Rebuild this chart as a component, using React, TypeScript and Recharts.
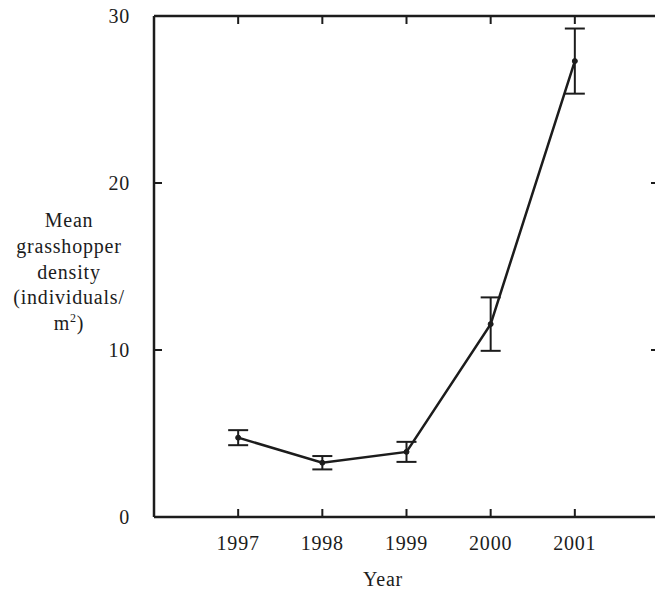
import React from 'react';
import { LineChart, Line, XAxis, YAxis, ErrorBar, Label } from 'recharts';

const years = [1997, 1998, 1999, 2000, 2001];
const density = [4.75, 3.25, 3.9, 11.55, 27.3];
const stdErr = [0.45, 0.4, 0.6, 1.6, 1.95];
const yTicks = [0, 10, 20, 30];
const yLabelLines = ['Mean', 'grasshopper', 'density', '(individuals/', 'm²)'];
const xLabel = 'Year';

const data = years.map((y, i) => ({ year: y, density: density[i], err: stdErr[i] }));

const FONT = '"Liberation Serif", "Times New Roman", serif';
const INK = '#1c1c1c';
const TICK_LEN = 8;

const BottomTick = (p: any) => (
  <g>
    <line x1={p.x} x2={p.x} y1={p.y} y2={p.y - TICK_LEN} stroke={INK} strokeWidth={2} />
    <text x={p.x} y={p.y + 33} textAnchor="middle" fontFamily={FONT} fontSize={20} fill={INK} letterSpacing={0.8}>
      {p.payload.value}
    </text>
  </g>
);

const TopTick = (p: any) => (
  <line x1={p.x} x2={p.x} y1={p.y} y2={p.y + TICK_LEN} stroke={INK} strokeWidth={2} />
);

const LeftTick = (p: any) => (
  <g>
    <line x1={p.x} x2={p.x + TICK_LEN} y1={p.y} y2={p.y} stroke={INK} strokeWidth={2} />
    <text x={p.x - 24} y={p.y + 7} textAnchor="end" fontFamily={FONT} fontSize={20} fill={INK} letterSpacing={0.8}>
      {p.payload.value}
    </text>
  </g>
);

const RightTick = (p: any) => (
  <line x1={p.x} x2={p.x - TICK_LEN} y1={p.y} y2={p.y} stroke={INK} strokeWidth={2} />
);

const YTitle = () => (
  <text fontFamily={FONT} fontSize={20} fill={INK} textAnchor="middle" letterSpacing={0.8}>
    {yLabelLines.map((l, i) => (
      <tspan key={i} x={69} y={227 + i * 25.8}>
        {l === 'm²)' ? (
          <>
            m<tspan fontSize={12} dy={-8}>2</tspan>
            <tspan dy={8}>)</tspan>
          </>
        ) : (
          l
        )}
      </tspan>
    ))}
  </text>
);

const XTitle = () => (
  <text x={383} y={586} fontFamily={FONT} fontSize={20} fill={INK} textAnchor="middle" letterSpacing={0.8}>
    {xLabel}
  </text>
);

const axisLine = { stroke: INK, strokeWidth: 2.5 };

export default function App() {
  return (
    <div style={{ position: 'absolute', left: 0, top: 0, width: 655, height: 589, overflow: 'hidden', background: '#fff' }}>
      <LineChart width={680} height={589} data={data} margin={{ top: 15, left: 153, right: 20, bottom: 71 }}>
        <XAxis
          dataKey="year"
          type="number"
          domain={[1996, 2002]}
          ticks={years}
          height={1}
          tickSize={0}
          tickMargin={0}
          axisLine={axisLine}
          tickLine={false}
          tick={<BottomTick />}
          interval={0}
        >
          <Label content={<XTitle />} />
        </XAxis>
        <XAxis
          xAxisId="top"
          dataKey="year"
          orientation="top"
          type="number"
          domain={[1996, 2002]}
          ticks={years}
          height={1}
          tickSize={0}
          tickMargin={0}
          axisLine={axisLine}
          tickLine={false}
          tick={<TopTick />}
          interval={0}
        />
        <YAxis
          type="number"
          domain={[0, 30]}
          ticks={yTicks}
          width={1}
          tickSize={0}
          tickMargin={0}
          axisLine={axisLine}
          tickLine={false}
          tick={<LeftTick />}
          interval={0}
        >
          <Label content={<YTitle />} />
        </YAxis>
        <YAxis
          yAxisId="right"
          orientation="right"
          type="number"
          domain={[0, 30]}
          ticks={yTicks}
          width={1}
          tickSize={0}
          tickMargin={0}
          axisLine={axisLine}
          tickLine={false}
          tick={<RightTick />}
          interval={0}
        />
        <Line
          xAxisId="top"
          yAxisId="right"
          dataKey="density"
          stroke="none"
          dot={false}
          activeDot={false}
          legendType="none"
          isAnimationActive={false}
        />
        <Line
          dataKey="density"
          type="linear"
          stroke={INK}
          strokeWidth={2.5}
          dot={{ r: 2.5, fill: INK, stroke: INK, strokeWidth: 1 }}
          activeDot={false}
          isAnimationActive={false}
        >
          <ErrorBar dataKey="err" direction="y" width={10} stroke={INK} strokeWidth={2} />
        </Line>
      </LineChart>
    </div>
  );
}
